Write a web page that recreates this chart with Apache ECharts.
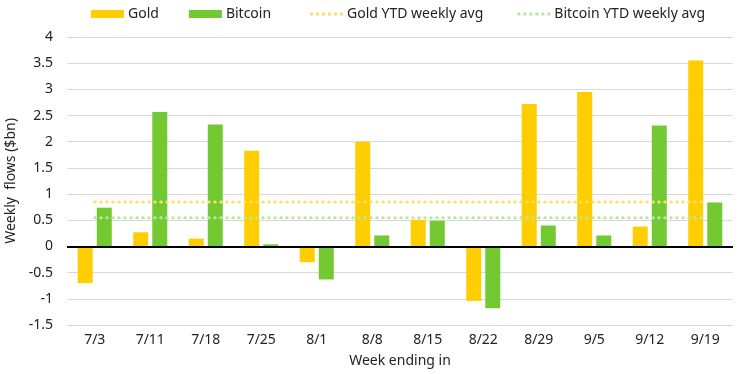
<!DOCTYPE html>
<html><head><meta charset="utf-8">
<script src="https://cdn.jsdelivr.net/npm/echarts@6/dist/echarts.min.js"></script>
<style>html,body{margin:0;padding:0;background:#fff}#c{width:740px;height:374px}</style>
</head><body><div id="c"></div>
<script>
var categories = ['7/3','7/11','7/18','7/25','8/1','8/8','8/15','8/22','8/29','9/5','9/12','9/19'];
var gold = [-0.70, 0.27, 0.15, 1.83, -0.30, 2.00, 0.51, -1.04, 2.72, 2.95, 0.38, 3.55];
var bitcoin = [0.74, 2.57, 2.33, 0.04, -0.63, 0.21, 0.49, -1.18, 0.40, 0.21, 2.31, 0.84];
var goldAvgValue = 0.85;
var bitcoinAvgValue = 0.55;
var goldAvg = categories.map(function(){return goldAvgValue;});
var bitcoinAvg = categories.map(function(){return bitcoinAvgValue;});

var FONT = 'Noto Sans';
var TXT = '#222';
var DOTS = 'path://M0,0h3v3h-3zM6,0h3v3h-3zM12,0h3v3h-3zM18,0h3v3h-3zM24,0h3v3h-3zM30,0h3v3h-3z';
var legendText = {fontFamily: FONT, fontSize: 14, color: TXT, padding: [0,0,0,-1]};
var chart = echarts.init(document.getElementById('c'), null, {renderer:'canvas'});
chart.setOption({
  animation: false,
  textStyle: {fontFamily: FONT},
  legend: [{
    top: 2, left: 86,
    itemWidth: 33, itemHeight: 8, itemGap: 30,
    textStyle: legendText,
    data: [
      {name:'Gold', icon:'rect'},
      {name:'Bitcoin', icon:'rect'}
    ]
  }, {
    top: 2, left: 305,
    itemWidth: 33, itemHeight: 3, itemGap: 34,
    textStyle: legendText,
    data: [
      {name:'Gold YTD weekly avg', icon: DOTS},
      {name:'Bitcoin YTD weekly avg', icon: DOTS}
    ]
  }],
  grid: {left: 67, right: 7, top: 37, bottom: 49, containLabel: false, outerBoundsMode: 'none'},
  xAxis: {
    type: 'category', data: categories,
    axisLine: {show: false, onZero: false},
    axisTick: {show: false},
    axisLabel: {fontFamily: FONT, fontSize: 14, color: TXT, margin: 8},
    name: 'Week ending in', nameLocation: 'middle', nameGap: 29,
    nameTextStyle: {fontFamily: FONT, fontSize: 14, color: TXT}
  },
  yAxis: {
    type: 'value', min: -1.5, max: 4, interval: 0.5,
    axisLine: {show: false}, axisTick: {show: false},
    splitLine: {lineStyle: {color: '#d9d9d9', width: 1}},
    axisLabel: {fontFamily: FONT, fontSize: 14, color: TXT, margin: 14},
    name: 'Weekly  flows ($bn)', nameLocation: 'middle', nameGap: 45,
    nameTextStyle: {fontFamily: FONT, fontSize: 14, color: TXT}
  },
  series: [
    {name:'Gold', type:'bar', data: gold, barWidth: 15, barGap: '27%', barCategoryGap: '39%',
     itemStyle:{color:'#FFCE00'},
     markLine: {silent: true, symbol: 'none', label: {show: false},
       lineStyle: {color: '#000', width: 2, type: 'solid'},
       data: [{yAxis: 0}]}},
    {name:'Bitcoin', type:'bar', data: bitcoin, barWidth: 15, itemStyle:{color:'#72C932'}},
    {name:'Gold YTD weekly avg', type:'line', data: goldAvg, symbol:'none',
     itemStyle:{color:'#FFE066'},
     lineStyle:{color:'#FFE066', width:3, type:[0.5,5.5], cap:'round'}},
    {name:'Bitcoin YTD weekly avg', type:'line', data: bitcoinAvg, symbol:'none',
     itemStyle:{color:'#BCE5A0'},
     lineStyle:{color:'#BCE5A0', width:3, type:[0.5,5.5], cap:'round'}}
  ]
});
</script></body></html>
